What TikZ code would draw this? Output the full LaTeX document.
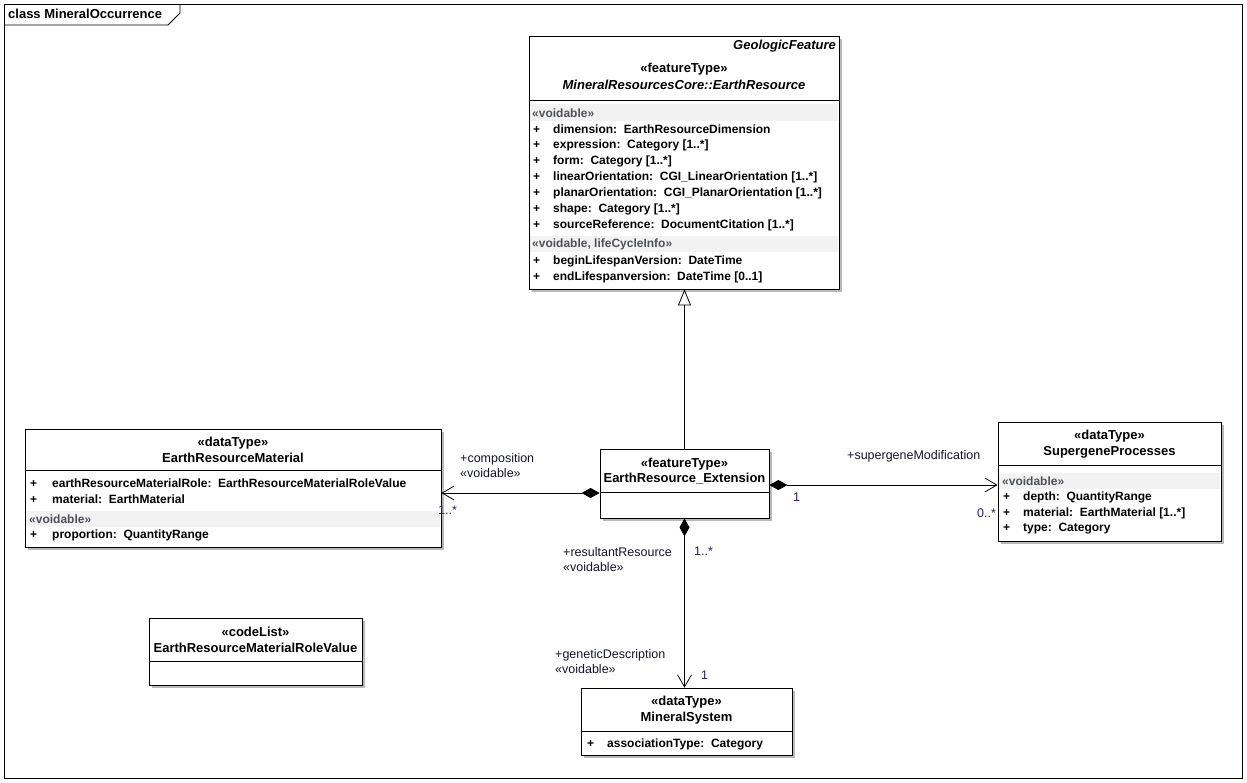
\documentclass[tikz,border=0pt]{standalone}
\usepackage{fontspec}
\setmainfont{Liberation Sans}
\usetikzlibrary{arrows.meta,shadows}
\definecolor{multcol}{RGB}{45,25,115}
\definecolor{rolecol}{RGB}{20,20,45}
\definecolor{bandcol}{RGB}{242,242,242}
\definecolor{stereocol}{RGB}{80,80,90}
\newcommand\boxfont{\fontsize{12}{14}\selectfont\bfseries}
\newcommand\titlefont{\fontsize{13}{15}\selectfont\bfseries}
\newcommand\labfont{\fontsize{12.5}{15}\selectfont}
\begin{document}
\begin{tikzpicture}[x=1pt,y=-1pt,
    every node/.style={inner sep=0pt},
    umlbox/.style={draw,fill=white,line width=.8pt,
        drop shadow={shadow xshift=3pt,shadow yshift=-3pt,fill=gray!55,opacity=1}},
    title/.style={font=\titlefont},
    attr/.style={anchor=west,font=\boxfont},
    band/.style={anchor=west,font=\boxfont,text=stereocol},
    role/.style={anchor=west,font=\labfont,text=rolecol,align=left},
    mult/.style={anchor=west,font=\labfont,text=multcol},
    comp/.style={line width=.8pt,{Diamond[length=18pt,width=10pt]}-{Straight Barb[length=12pt,width=14pt]}},
    gen/.style={line width=.8pt,-{Triangle[open,length=16pt,width=13pt]}}]
    \useasboundingbox (0,0) rectangle (1247,782);
    % frame
    \draw[line width=.8pt] (4,4) rectangle (1242,778);
    \draw[line width=.8pt] (4,25) -- (168,25) -- (180,13) -- (180,4);
    \node[anchor=west,font=\titlefont] (frm) at (8,14) {class MineralOccurrence};

    % EarthResource
    \node[umlbox,minimum width=310pt,minimum height=253pt] (er) at (684,162.5) {};
    \draw (er.west |- 0,100) -- (er.east |- 0,100);
    \fill[bandcol] (530,104) rectangle (838,121);
    \fill[bandcol] (530,236) rectangle (838,252);
    \node[anchor=east,font=\titlefont\itshape] (er-sup) at (836,46) {GeologicFeature};
    \node[title] (er-st) at (684,69) {«featureType»};
    \node[title,font=\titlefont\itshape] (er-name) at (684,85) {MineralResourcesCore::EarthResource};
    \node[band] (er-b1) at (532,113) {«voidable»};
    \foreach \y/\t [count=\i] in {129/{dimension:\ \ EarthResourceDimension},
        145/{expression:\ \ Category [1..*]},161/{form:\ \ Category [1..*]},
        177/{linearOrientation:\ \ CGI\_LinearOrientation [1..*]},
        193/{planarOrientation:\ \ CGI\_PlanarOrientation [1..*]},
        209/{shape:\ \ Category [1..*]},225/{sourceReference:\ \ DocumentCitation [1..*]}}
        \node[attr] (er-a\i) at (533,\y) {\makebox[20pt][l]{+}\t};
    \node[band] (er-b2) at (532,244) {«voidable, lifeCycleInfo»};
    \node[attr] (er-l1) at (533,261) {\makebox[20pt][l]{+}beginLifespanVersion:\ \ DateTime};
    \node[attr] (er-l2) at (533,277) {\makebox[20pt][l]{+}endLifespanversion:\ \ DateTime [0..1]};

    % EarthResourceMaterial
    \node[umlbox,minimum width=416pt,minimum height=118pt] (mat) at (233,488) {};
    \draw (mat.west |- 0,470) -- (mat.east |- 0,470);
    \fill[bandcol] (26,511) rectangle (440,527);
    \node[title] (mat-st) at (233,443) {«dataType»};
    \node[title] (mat-name) at (233,458) {EarthResourceMaterial};
    \node[attr] (mat-a1) at (30,483) {\makebox[22pt][l]{+}earthResourceMaterialRole:\ \ EarthResourceMaterialRoleValue};
    \node[attr] (mat-a2) at (30,499) {\makebox[22pt][l]{+}material:\ \ EarthMaterial};
    \node[band] (mat-b1) at (29,519) {«voidable»};
    \node[attr] (mat-a3) at (30,535) {\makebox[22pt][l]{+}proportion:\ \ QuantityRange};

    % EarthResource_Extension
    \node[umlbox,minimum width=169pt,minimum height=69pt] (ext) at (684.5,483.5) {};
    \draw (ext.west |- 0,492) -- (ext.east |- 0,492);
    \node[title] (ext-st) at (684.5,464) {«featureType»};
    \node[title] (ext-name) at (684.5,479) {EarthResource\_Extension};

    % SupergeneProcesses
    \node[umlbox,minimum width=223pt,minimum height=119pt] (sup) at (1109.5,481.5) {};
    \draw (sup.west |- 0,465) -- (sup.east |- 0,465);
    \fill[bandcol] (999,473) rectangle (1220,489);
    \node[title] (sup-st) at (1109.5,436) {«dataType»};
    \node[title] (sup-name) at (1109.5,452) {SupergeneProcesses};
    \node[band] (sup-b1) at (1002,481) {«voidable»};
    \foreach \y/\t [count=\i] in {497/{depth:\ \ QuantityRange},
        513/{material:\ \ EarthMaterial [1..*]},529/{type:\ \ Category}}
        \node[attr] (sup-a\i) at (1003,\y) {\makebox[20pt][l]{+}\t};

    % MineralSystem
    \node[umlbox,minimum width=211pt,minimum height=67pt] (sys) at (686.5,721.5) {};
    \draw (sys.west |- 0,731) -- (sys.east |- 0,731);
    \node[title] (sys-st) at (686.5,702) {«dataType»};
    \node[title] (sys-name) at (686.5,718) {MineralSystem};
    \node[attr] (sys-a1) at (587,744) {\makebox[20pt][l]{+}associationType:\ \ Category};

    % EarthResourceMaterialRoleValue
    \node[umlbox,minimum width=213pt,minimum height=67pt] (rv) at (255.5,651.5) {};
    \draw (rv.west |- 0,661) -- (rv.east |- 0,661);
    \node[title] (rv-st) at (255.5,632) {«codeList»};
    \node[title] (rv-name) at (255.5,648) {EarthResourceMaterialRoleValue};

    % connectors
    \coordinate (cl) at ([yshift=-9.5pt]ext.west);
    \coordinate (cr) at ([yshift=-1.5pt]ext.east);
    \draw[gen] (ext.north) -- (ext.north |- er.south);
    \draw[comp] (cl) -- (cl -| mat.east);
    \draw[comp] (cr) -- (cr -| sup.west);
    \draw[comp] (ext.south) -- (ext.south |- sys.north);

    \node[role] (l-comp) at (460,466) {+composition\\«voidable»};
    \node[mult] (m-comp) at (438,510) {1..*};
    \node[role] (l-sup) at (847,456) {+supergeneModification};
    \node[mult] (m-sup1) at (793,497) {1};
    \node[mult] (m-sup2) at (977,513) {0..*};
    \node[role] (l-res) at (563,560) {+resultantResource\\«voidable»};
    \node[mult] (m-res) at (694,551) {1..*};
    \node[role] (l-gen) at (555,662) {+geneticDescription\\«voidable»};
    \node[mult] (m-gen) at (701,675) {1};
\end{tikzpicture}
\end{document}
